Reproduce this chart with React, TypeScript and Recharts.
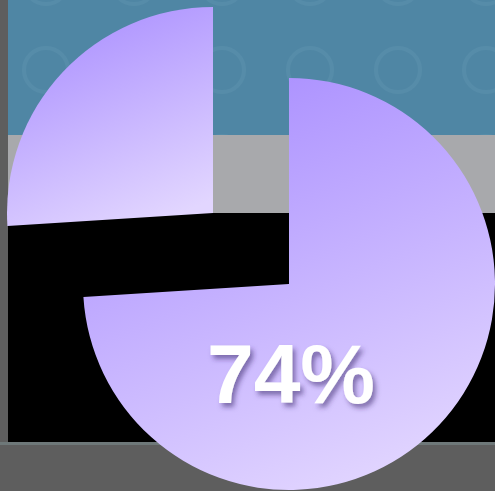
import { PieChart, Pie, Cell } from "recharts";

// share of the total, main slice first
const sliceNames = ["Main", "Rest"];
const sliceValues = [74, 26];
const labelText = ["74%", ""];

const data = sliceNames.map((name, i) => ({ name, value: sliceValues[i] }));

const W = 495;
const H = 491;

const renderLabel = (props: any) => {
  if (props.index !== 0) return null;
  return (
    <text
      x={props.cx + 2}
      y={props.cy + 119}
      textAnchor="middle"
      fill="#ffffff"
      fontFamily="'Liberation Sans', Arial, sans-serif"
      fontWeight="bold"
      fontSize={84}
      filter="url(#txtShadow)"
    >
      {labelText[0]}
    </text>
  );
};

export default function App() {
  return (
    <div style={{ position: "absolute", top: 0, left: 0, width: W, height: H, overflow: "hidden", background: "#5e5e5e" }}>
      {/* backdrop */}
      <svg style={{ position: "absolute", left: 8, top: 0 }} width={W - 8} height={135}>
        <defs>
          <pattern id="rings" width="88" height="88" patternUnits="userSpaceOnUse" x="-6" y="26">
            <circle cx="44" cy="44" r="22" fill="none" stroke="#7fb0c8" strokeOpacity="0.14" strokeWidth="4" />
          </pattern>
        </defs>
        <rect width={W - 8} height={135} fill="#4f86a4" />
        <rect width={W - 8} height={135} fill="url(#rings)" />
      </svg>
      <div style={{ position: "absolute", left: 8, top: 135, width: W - 8, height: 78, background: "#a8a9ac" }} />
      <div style={{ position: "absolute", left: 8, top: 213, width: W - 8, height: 229, background: "#000000" }} />
      <div style={{ position: "absolute", left: 0, top: 442, width: W, height: 3, background: "#7a8a8c", opacity: 0.6 }} />
      <div style={{ position: "absolute", left: 0, top: 0 }}>
        <PieChart width={W} height={H} margin={{ top: 0, right: 0, bottom: 0, left: 0 }}>
          <defs>
            <linearGradient id="lav" x1="0.3" y1="0" x2="0.7" y2="1">
              <stop offset="0%" stopColor="#aa8fff" />
              <stop offset="100%" stopColor="#e2d6ff" />
            </linearGradient>
            <filter id="txtShadow" x="-20%" y="-20%" width="140%" height="140%">
              <feDropShadow dx="3" dy="4" stdDeviation="2.5" floodColor="#3a2c6a" floodOpacity="0.55" />
            </filter>
          </defs>
          <Pie
            data={data}
            dataKey="value"
            cx={213}
            cy={213}
            outerRadius={206}
            startAngle={90}
            endAngle={-270}
            stroke="none"
            isAnimationActive={false}
          >
            {data.map((d, i) => (
              <Cell key={d.name} fill={i === 1 ? "url(#lav)" : "none"} />
            ))}
          </Pie>
          <Pie
            data={data}
            dataKey="value"
            cx={289}
            cy={284}
            outerRadius={206}
            startAngle={90}
            endAngle={-270}
            stroke="none"
            labelLine={false}
            label={renderLabel}
            isAnimationActive={false}
          >
            {data.map((d, i) => (
              <Cell key={d.name} fill={i === 0 ? "url(#lav)" : "none"} />
            ))}
          </Pie>
        </PieChart>
      </div>
    </div>
  );
}
